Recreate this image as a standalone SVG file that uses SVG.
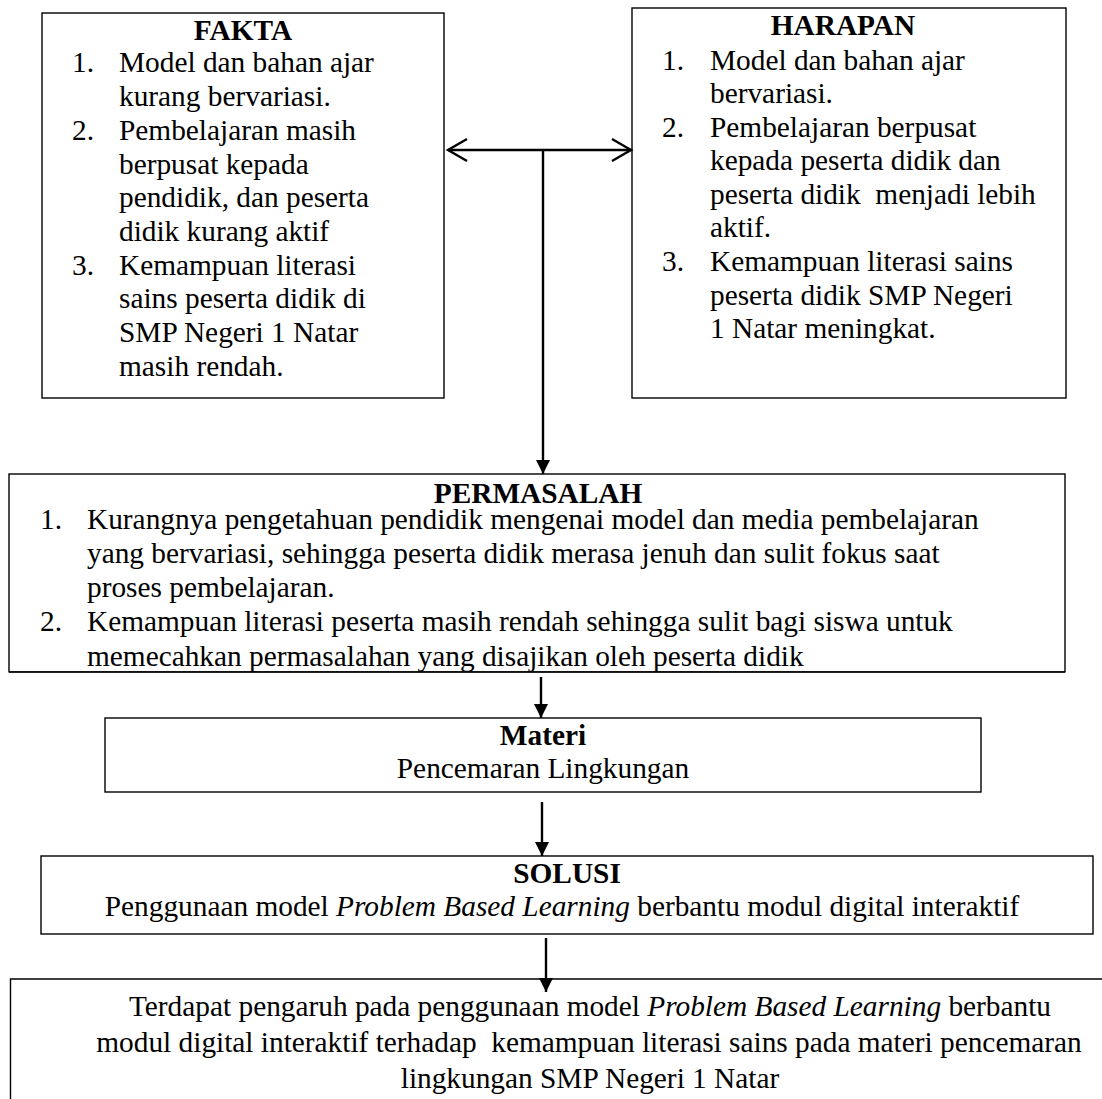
<svg xmlns="http://www.w3.org/2000/svg" width="1102" height="1099" viewBox="0 0 1102 1099">
<defs>
<style>
text{font-family:"Liberation Serif","Times New Roman",serif;font-size:29.33px;fill:#000;white-space:pre}
.b{font-weight:bold}
.c{text-anchor:middle}
.box{fill:#fff;stroke:#000;stroke-width:1.4}
.ln{stroke:#000;stroke-width:2.4;fill:none}
.i{font-style:italic}
</style>
<marker id="ah" markerUnits="userSpaceOnUse" markerWidth="18" markerHeight="14" refX="14" refY="7" orient="auto">
<path d="M0,0 L14,7 L0,14 Z" fill="#000"/>
</marker>
</defs>
<rect width="1102" height="1099" fill="#fff"/>
<g id="fakta">
<rect class="box" x="42" y="13" width="402" height="385"/>
<text class="b c" x="243" y="40">FAKTA</text>
<text x="72" y="72">1.</text><text x="119" y="72">Model dan bahan ajar</text>
<text x="119" y="106">kurang bervariasi.</text>
<text x="72" y="140">2.</text><text x="119" y="140">Pembelajaran masih</text>
<text x="119" y="174">berpusat kepada</text>
<text x="119" y="207">pendidik, dan peserta</text>
<text x="119" y="241">didik kurang aktif</text>
<text x="72" y="275">3.</text><text x="119" y="275">Kemampuan literasi</text>
<text x="119" y="308">sains peserta didik di</text>
<text x="119" y="342">SMP Negeri 1 Natar</text>
<text x="119" y="376">masih rendah.</text>
</g>
<g id="harapan">
<rect class="box" x="632" y="8" width="434" height="390"/>
<text class="b c" x="843" y="35">HARAPAN</text>
<text x="662" y="70">1.</text><text x="710" y="70">Model dan bahan ajar</text>
<text x="710" y="103">bervariasi.</text>
<text x="662" y="137">2.</text><text x="710" y="137">Pembelajaran berpusat</text>
<text x="710" y="170">kepada peserta didik dan</text>
<text x="710" y="204">peserta didik  menjadi lebih</text>
<text x="710" y="237">aktif.</text>
<text x="662" y="271">3.</text><text x="710" y="271">Kemampuan literasi sains</text>
<text x="710" y="305">peserta didik SMP Negeri</text>
<text x="710" y="338">1 Natar meningkat.</text>
</g>
<g id="permasalah">
<rect class="box" x="9" y="474" width="1056" height="198"/>
<text class="b c" x="538" y="503">PERMASALAH</text>
<text x="40" y="529">1.</text><text x="87" y="529">Kurangnya pengetahuan pendidik mengenai model dan media pembelajaran</text>
<text x="87" y="563">yang bervariasi, sehingga peserta didik merasa jenuh dan sulit fokus saat</text>
<text x="87" y="597">proses pembelajaran.</text>
<text x="40" y="631">2.</text><text x="87" y="631">Kemampuan literasi peserta masih rendah sehingga sulit bagi siswa untuk</text>
<text x="87" y="666">memecahkan permasalahan yang disajikan oleh peserta didik</text>
<rect x="8" y="672.7" width="1058" height="12" fill="#fff"/>
<line x1="9" y1="672" x2="1065" y2="672" stroke="#000" stroke-width="1.4"/>
</g>
<g id="materi">
<rect class="box" x="105" y="718" width="876" height="74"/>
<text class="b c" x="543" y="745">Materi</text>
<text class="c" x="543" y="778">Pencemaran Lingkungan</text>
</g>
<g id="solusi">
<rect class="box" x="41" y="856" width="1052" height="78"/>
<text class="b c" x="567" y="883">SOLUSI</text>
<text class="c" x="562" y="916">Penggunaan model <tspan class="i">Problem Based Learning</tspan> berbantu modul digital interaktif</text>
</g>
<g id="hasil">
<path class="box" d="M10.5,1100 V979 H1103"/>
<text class="c" x="590" y="1016">Terdapat pengaruh pada penggunaan model <tspan class="i">Problem Based Learning</tspan> berbantu</text>
<text class="c" x="589" y="1052">modul digital interaktif terhadap  kemampuan literasi sains pada materi pencemaran</text>
<text class="c" x="590" y="1088">lingkungan SMP Negeri 1 Natar</text>
</g>
<g id="connectors">
<line class="ln" x1="448" y1="150" x2="631" y2="150"/>
<polyline class="ln" points="467,139 448,150 467,161"/>
<polyline class="ln" points="612,139 631,150 612,161"/>
<line class="ln" x1="543" y1="150" x2="543" y2="474" marker-end="url(#ah)"/>
<line class="ln" x1="541" y1="677" x2="541" y2="718" marker-end="url(#ah)"/>
<line class="ln" x1="542" y1="802" x2="542" y2="856" marker-end="url(#ah)"/>
<line class="ln" x1="546" y1="938" x2="546" y2="992" marker-end="url(#ah)"/>
</g>
</svg>
